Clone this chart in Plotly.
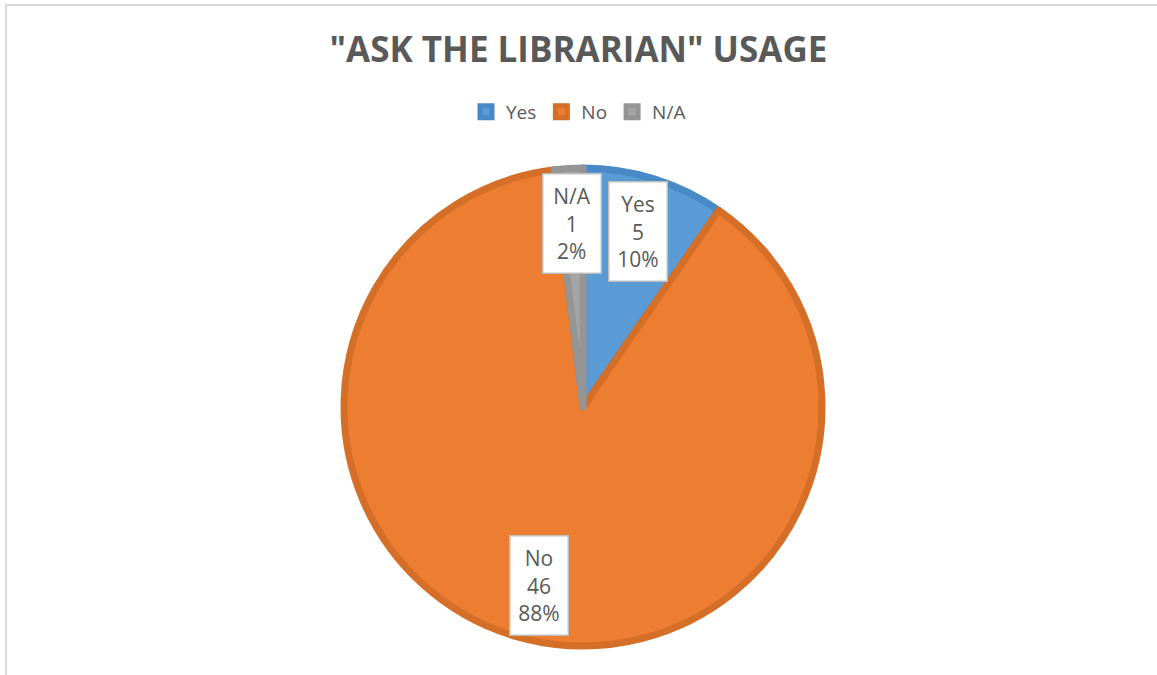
import math
import plotly.graph_objects as go

# Survey answers
categories = ["Yes", "No", "N/A"]
counts = [5, 46, 1]

fill_colors = ["#5B9BD5", "#ED7D31", "#A5A5A5"]
edge_colors = ["#4A89C8", "#D56E27", "#959595"]

W, H = 1157, 675
CX, CY, R = 583, 407, 239  # pie centre and radius in pixels

fig = go.Figure()
fig.add_trace(go.Pie(
    labels=categories,
    values=counts,
    sort=False,
    direction="clockwise",
    rotation=0,
    textinfo="none",
    hoverinfo="label+value+percent",
    marker=dict(colors=fill_colors, line=dict(color=edge_colors, width=7)),
    domain=dict(x=[(CX - R) / W, (CX + R) / W], y=[1 - (CY + R) / H, 1 - (CY - R) / H]),
))

# Callout labels placed along each slice's mid-angle
total = sum(counts)
cum = 0
for name, v in zip(categories, counts):
    mid = (cum + v / 2) / total * 2 * math.pi
    cum += v
    rr = 0.77 * R
    px = CX + rr * math.sin(mid)
    py = CY - rr * math.cos(mid)
    pct = round(100 * v / total)
    fig.add_annotation(
        x=px / W, y=1 - py / H, xref="paper", yref="paper",
        xanchor="center", yanchor="middle",
        text=f"{name}<br>{v}<br>{pct}%",
        showarrow=False,
        font=dict(family="Open Sans", size=21, color="#595959"),
        bgcolor="white", bordercolor="#BFBFBF", borderwidth=1.5,
        width=55, height=96, align="center", valign="middle",
    )

fig.update_layout(
    width=W, height=H,
    margin=dict(l=0, r=0, t=0, b=0),
    paper_bgcolor="white",
    title=dict(
        text="<b>\"ASK THE LIBRARIAN\" USAGE</b>",
        x=0.5, xanchor="center", y=1 - 50 / H, yanchor="middle",
        font=dict(family="Open Sans", size=35, color="#595959"),
    ),
    showlegend=True,
    legend=dict(
        orientation="h", x=0.5, xanchor="center", y=1 - 112 / H, yanchor="middle",
        font=dict(family="Open Sans", size=19, color="#595959"),
        itemwidth=30, traceorder="normal",
    ),
    shapes=[dict(
        type="rect", xref="paper", yref="paper",
        x0=6 / W, x1=1.2, y0=-0.2, y1=1 - 5 / H,
        line=dict(color="#D9D9D9", width=2), fillcolor="rgba(0,0,0,0)",
    )],
)

fig.write_html("out.html")
